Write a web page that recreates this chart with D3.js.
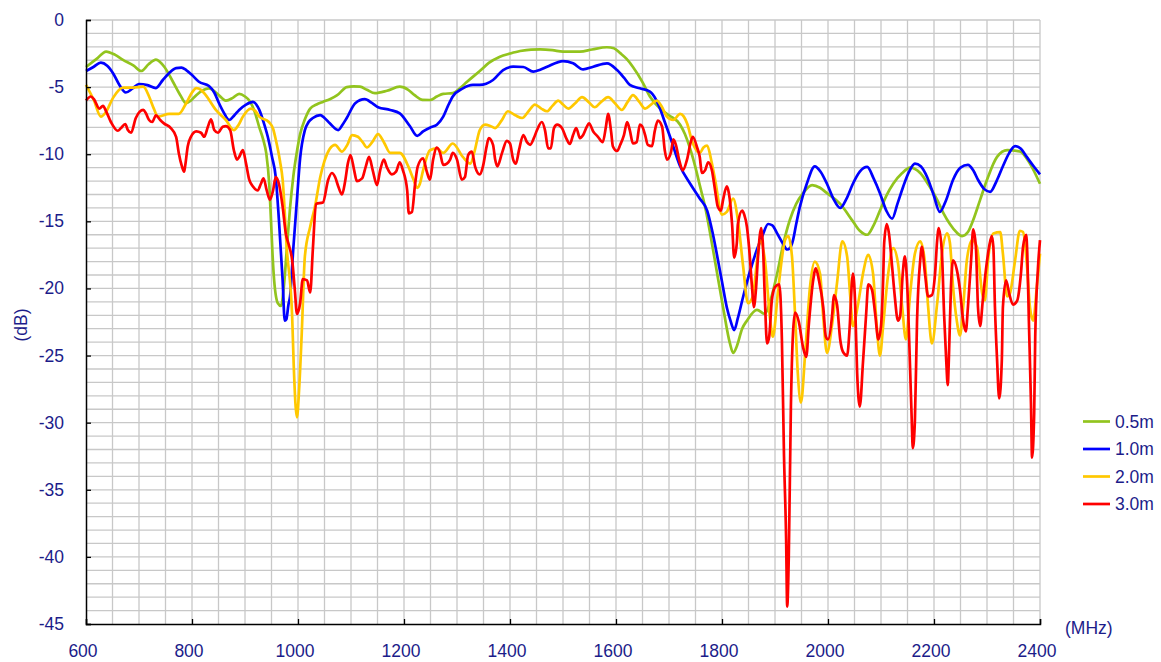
<!DOCTYPE html>
<html>
<head>
<meta charset="utf-8">
<script src="https://cdn.jsdelivr.net/npm/d3@7"></script>
<style>
  body { margin: 0; background: #fff; }
  svg { display: block; font-family: "Liberation Sans", Arial, sans-serif; }
</style>
</head>
<body>
<svg id="chart"></svg>
<script>
var width = 1161, height = 662;

// series labels and colours
var seriesNames = ["0.5m", "1.0m", "2.0m", "3.0m"];
var seriesColors = ["#92c41e", "#0000ff", "#ffc800", "#ff0000"];

// axis ticks
var xTicks = [600, 800, 1000, 1200, 1400, 1600, 1800, 2000, 2200, 2400];
var yTicks = [0, -5, -10, -15, -20, -25, -30, -35, -40, -45];

// [MHz, dB]
var s05 = [[600,-3.5],[620,-2.9],[638,-2.35],[655,-2.6],[669,-2.95],[690,-3.4],[704,-3.8],[718,-3.3],[732,-2.95],[748,-3.5],[764,-4.6],[778,-5.6],[789,-6.2],[798,-6.0],[808,-5.6],[832,-5.1],[848,-5.5],[864,-6.0],[877,-5.8],[889,-5.5],[900,-5.7],[908,-6.0],[918,-6.8],[927,-8.0],[935,-9.0],[940,-9.9],[946,-12.4],[949,-14.9],[952,-17.5],[955,-19.4],[962,-21.1],[968,-21.3],[973,-20.0],[979,-17.0],[985,-14.0],[991,-11.7],[998,-9.8],[1004,-8.5],[1013,-7.4],[1023,-6.6],[1035,-6.3],[1047,-6.1],[1060,-5.9],[1074,-5.6],[1092,-5.0],[1105,-4.95],[1117,-4.97],[1130,-5.2],[1145,-5.45],[1168,-5.27],[1192,-4.97],[1208,-5.2],[1220,-5.6],[1235,-5.95],[1249,-5.96],[1262,-5.7],[1274,-5.5],[1292,-5.45],[1305,-5.1],[1319,-4.6],[1343,-3.8],[1360,-3.2],[1381,-2.73],[1400,-2.5],[1419,-2.31],[1440,-2.2],[1457,-2.19],[1480,-2.25],[1500,-2.36],[1532,-2.36],[1555,-2.2],[1583,-2.03],[1596,-2.1],[1608,-2.47],[1620,-2.9],[1632,-3.5],[1651,-4.7],[1664,-5.7],[1683,-6.6],[1700,-7.1],[1721,-7.8],[1730,-8.5],[1740,-9.6],[1750,-11.0],[1758,-12.3],[1768,-13.9],[1783,-17.1],[1802,-21.4],[1815,-24.1],[1821,-24.8],[1828,-24.3],[1838,-23.0],[1847,-22.4],[1866,-21.6],[1881,-21.9],[1892,-20.8],[1904,-18.9],[1915,-16.8],[1928,-14.9],[1940,-13.7],[1953,-12.9],[1970,-12.3],[1985,-12.5],[1998,-12.9],[2023,-13.7],[2047,-15.0],[2060,-15.7],[2074,-16.0],[2086,-15.3],[2098,-14.2],[2110,-13.1],[2123,-12.2],[2140,-11.4],[2155,-11.0],[2174,-11.4],[2190,-12.3],[2206,-13.4],[2218,-14.4],[2230,-15.2],[2242,-15.8],[2253,-16.1],[2264,-15.8],[2274,-14.9],[2287,-13.4],[2300,-11.9],[2319,-10.2],[2338,-9.7],[2362,-9.8],[2381,-10.7],[2400,-12.2]];

var s10 = [[600,-3.8],[614,-3.5],[628,-3.18],[640,-3.4],[651,-3.96],[663,-4.84],[675,-5.4],[688,-5.1],[700,-4.77],[716,-4.85],[732,-5.07],[745,-4.47],[757,-3.95],[770,-3.58],[780,-3.55],[789,-3.73],[800,-4.1],[813,-4.6],[832,-4.92],[842,-5.4],[851,-6.2],[860,-6.9],[870,-7.45],[880,-7.1],[889,-6.7],[902,-6.3],[915,-6.1],[927,-6.7],[935,-7.6],[943,-8.7],[951,-10.2],[958,-11.7],[964,-14.9],[971,-19.4],[975,-22.4],[978,-22.3],[982,-21.2],[985,-20.6],[991,-17.1],[998,-13.4],[1004,-10.3],[1013,-8.2],[1020,-7.6],[1028,-7.3],[1042,-7.08],[1050,-7.3],[1060,-7.7],[1076,-8.2],[1084,-7.8],[1092,-7.3],[1108,-6.2],[1126,-5.9],[1140,-6.2],[1151,-6.5],[1174,-6.7],[1192,-6.95],[1211,-7.9],[1225,-8.64],[1236,-8.3],[1250,-8.0],[1262,-7.8],[1274,-7.2],[1283,-6.4],[1292,-5.7],[1311,-5.1],[1330,-4.84],[1343,-4.84],[1355,-4.75],[1368,-4.47],[1387,-3.73],[1406,-3.48],[1425,-3.5],[1444,-3.85],[1457,-3.7],[1470,-3.48],[1500,-3.06],[1519,-3.23],[1538,-3.68],[1557,-3.48],[1583,-3.23],[1602,-3.73],[1615,-4.3],[1626,-4.84],[1645,-5.09],[1664,-5.34],[1675,-5.9],[1683,-6.6],[1692,-7.6],[1702,-8.7],[1721,-10.9],[1740,-12.2],[1758,-13.3],[1772,-14.2],[1782,-15.8],[1791,-17.6],[1800,-19.5],[1809,-21.4],[1816,-22.4],[1823,-23.1],[1830,-22.2],[1840,-20.6],[1853,-18.7],[1866,-17.1],[1877,-16.0],[1887,-15.2],[1895,-15.3],[1904,-15.9],[1914,-16.6],[1923,-17.1],[1928,-17.0],[1934,-16.4],[1940,-15.2],[1947,-13.9],[1960,-12.2],[1975,-10.9],[1986,-11.3],[1998,-12.2],[2010,-13.3],[2023,-14.0],[2035,-13.3],[2047,-12.2],[2060,-11.3],[2074,-10.95],[2086,-11.8],[2098,-12.9],[2110,-14.2],[2121,-14.8],[2131,-13.7],[2142,-12.4],[2153,-11.3],[2164,-10.7],[2175,-10.9],[2187,-11.7],[2199,-13.0],[2211,-14.3],[2222,-13.5],[2236,-11.9],[2250,-11.0],[2264,-10.8],[2274,-11.2],[2283,-11.9],[2295,-12.6],[2306,-12.8],[2318,-12.0],[2330,-10.9],[2342,-9.9],[2353,-9.4],[2364,-9.6],[2375,-10.2],[2388,-10.9],[2400,-11.5]];

var s20 = [[600,-4.84],[615,-6.0],[628,-7.2],[638,-6.83],[651,-5.8],[670,-5.04],[689,-5.04],[708,-4.97],[719,-5.7],[728,-6.6],[736,-7.2],[757,-7.0],[775,-7.0],[789,-6.2],[800,-5.4],[808,-5.07],[817,-5.2],[826,-5.6],[845,-6.7],[864,-7.45],[879,-8.2],[888,-7.8],[896,-7.2],[911,-6.6],[920,-6.8],[927,-7.2],[945,-7.6],[953,-8.1],[958,-8.9],[966,-10.5],[971,-11.9],[979,-17.1],[989,-22.1],[992,-25.8],[998,-29.6],[1002,-27.6],[1007,-23.4],[1013,-17.6],[1023,-15.4],[1032,-13.9],[1042,-11.7],[1050,-10.5],[1060,-9.6],[1070,-9.3],[1083,-9.8],[1093,-9.3],[1102,-8.57],[1113,-8.7],[1122,-9.1],[1130,-9.5],[1140,-9.1],[1151,-8.5],[1162,-9.1],[1174,-9.9],[1192,-9.9],[1208,-10.9],[1218,-11.9],[1225,-12.5],[1230,-12.2],[1236,-11.2],[1249,-9.7],[1262,-9.56],[1274,-9.9],[1292,-9.2],[1311,-10.2],[1325,-10.7],[1333,-9.8],[1343,-8.2],[1353,-7.8],[1363,-7.9],[1372,-8.05],[1384,-7.5],[1396,-6.8],[1410,-7.1],[1423,-7.3],[1435,-6.8],[1447,-6.3],[1459,-6.6],[1470,-6.8],[1480,-6.4],[1491,-6.0],[1500,-6.3],[1510,-6.6],[1523,-6.2],[1536,-5.75],[1548,-6.1],[1560,-6.5],[1572,-6.1],[1585,-5.75],[1598,-6.2],[1611,-6.7],[1622,-6.1],[1632,-5.6],[1644,-6.1],[1655,-6.6],[1666,-6.3],[1677,-6.0],[1687,-6.5],[1696,-7.2],[1708,-7.45],[1721,-7.0],[1728,-7.2],[1734,-7.7],[1745,-9.2],[1758,-9.9],[1765,-9.5],[1772,-9.35],[1780,-10.5],[1787,-11.9],[1800,-14.5],[1809,-14.3],[1821,-13.3],[1830,-14.9],[1840,-18.4],[1849,-21.1],[1858,-20.6],[1866,-18.0],[1872,-16.4],[1881,-17.9],[1891,-22.4],[1896,-23.6],[1906,-20.1],[1919,-16.4],[1925,-16.1],[1932,-17.6],[1938,-22.1],[1943,-26.3],[1949,-28.5],[1957,-24.8],[1966,-19.9],[1975,-18.0],[1985,-18.9],[1991,-22.1],[1998,-24.8],[2008,-22.6],[2017,-19.6],[2027,-16.5],[2036,-17.6],[2042,-20.6],[2047,-22.8],[2057,-21.1],[2066,-18.9],[2076,-17.5],[2085,-18.9],[2092,-22.8],[2098,-25.0],[2104,-22.8],[2113,-19.1],[2123,-17.0],[2132,-18.1],[2140,-21.4],[2147,-23.8],[2155,-20.4],[2164,-17.4],[2174,-16.5],[2183,-18.1],[2189,-21.4],[2196,-24.1],[2206,-21.1],[2215,-17.4],[2225,-15.9],[2230,-16.6],[2236,-19.9],[2243,-22.4],[2249,-23.5],[2255,-21.4],[2262,-17.9],[2272,-16.4],[2281,-16.9],[2291,-20.4],[2296,-20.9],[2302,-17.9],[2312,-15.9],[2325,-15.8],[2330,-17.4],[2338,-20.6],[2343,-20.4],[2353,-17.9],[2362,-15.7],[2368,-15.8],[2375,-18.1],[2381,-21.4],[2387,-22.4],[2394,-19.9],[2400,-17.4]];

var s30 = [[600,-6.0],[609,-5.7],[615,-5.9],[625,-6.6],[632,-6.4],[638,-6.8],[647,-7.6],[660,-8.25],[666,-8.05],[674,-7.75],[679,-8.2],[685,-8.4],[694,-7.3],[708,-6.7],[713,-6.95],[719,-7.45],[725,-7.6],[732,-7.1],[740,-7.45],[747,-7.7],[760,-8.05],[770,-8.7],[775,-9.9],[781,-10.9],[785,-11.3],[787,-10.9],[792,-9.4],[798,-8.7],[808,-8.3],[817,-8.4],[823,-8.7],[830,-7.95],[836,-7.4],[842,-8.2],[849,-8.4],[858,-7.95],[864,-7.9],[872,-8.2],[879,-9.7],[885,-10.4],[889,-10.2],[896,-9.7],[902,-10.7],[908,-11.9],[915,-12.4],[924,-12.7],[930,-12.2],[935,-11.8],[941,-12.7],[947,-13.4],[953,-12.7],[958,-11.7],[964,-12.2],[971,-13.9],[977,-15.9],[983,-16.8],[989,-17.9],[994,-20.1],[998,-21.9],[1004,-21.1],[1009,-19.3],[1017,-19.4],[1023,-20.3],[1028,-17.1],[1034,-13.7],[1047,-13.6],[1057,-11.9],[1064,-11.4],[1070,-11.7],[1076,-12.4],[1083,-13.0],[1089,-12.0],[1094,-10.7],[1099,-10.06],[1106,-11.2],[1111,-12.0],[1121,-11.8],[1128,-10.9],[1134,-10.2],[1141,-11.2],[1149,-12.3],[1155,-11.2],[1162,-10.4],[1168,-11.0],[1177,-11.5],[1185,-11.3],[1192,-10.6],[1198,-11.2],[1206,-12.7],[1209,-14.4],[1215,-14.3],[1221,-12.2],[1226,-10.9],[1236,-10.3],[1243,-11.3],[1249,-11.9],[1255,-10.4],[1262,-9.5],[1268,-9.9],[1274,-10.8],[1281,-10.7],[1287,-10.4],[1292,-9.9],[1300,-10.4],[1309,-11.9],[1315,-11.7],[1321,-10.06],[1328,-9.8],[1334,-10.9],[1343,-11.5],[1349,-10.9],[1356,-9.4],[1360,-8.8],[1368,-9.3],[1372,-10.4],[1376,-10.9],[1385,-9.9],[1394,-9.0],[1400,-9.2],[1406,-10.4],[1411,-10.7],[1417,-9.7],[1425,-8.57],[1432,-9.1],[1438,-9.3],[1445,-8.8],[1451,-8.2],[1460,-7.6],[1466,-8.2],[1472,-9.56],[1477,-9.56],[1483,-8.05],[1489,-7.8],[1498,-8.05],[1506,-8.8],[1513,-9.24],[1519,-8.57],[1525,-8.05],[1532,-8.8],[1538,-8.57],[1545,-7.95],[1549,-7.7],[1557,-8.3],[1566,-8.7],[1575,-9.1],[1581,-7.95],[1585,-7.0],[1591,-8.4],[1594,-9.4],[1602,-9.76],[1608,-9.3],[1615,-8.57],[1621,-7.6],[1626,-8.2],[1632,-9.2],[1639,-9.1],[1645,-7.8],[1649,-7.9],[1655,-8.57],[1660,-9.3],[1668,-9.4],[1673,-8.3],[1679,-7.5],[1687,-7.95],[1692,-9.7],[1696,-10.4],[1704,-9.8],[1708,-8.9],[1713,-9.3],[1719,-10.4],[1726,-11.2],[1734,-10.4],[1741,-9.1],[1745,-8.7],[1753,-9.5],[1758,-10.2],[1762,-11.4],[1768,-11.2],[1774,-10.6],[1781,-11.2],[1787,-12.7],[1792,-13.9],[1798,-14.2],[1802,-13.4],[1809,-12.4],[1813,-12.9],[1819,-15.2],[1823,-17.7],[1828,-16.6],[1830,-15.2],[1838,-14.2],[1842,-14.5],[1847,-15.4],[1851,-16.9],[1857,-20.1],[1860,-21.4],[1864,-20.1],[1868,-17.6],[1874,-15.5],[1877,-16.6],[1881,-20.9],[1885,-24.1],[1889,-23.6],[1894,-20.9],[1900,-19.9],[1908,-19.7],[1913,-23.8],[1917,-32.5],[1921,-38.7],[1923,-43.7],[1926,-40.0],[1930,-28.8],[1934,-23.3],[1938,-21.8],[1945,-22.5],[1953,-24.4],[1959,-25.1],[1964,-22.6],[1972,-19.4],[1977,-18.5],[1983,-19.4],[1991,-21.4],[1996,-23.6],[2000,-23.8],[2008,-21.9],[2011,-20.5],[2017,-21.2],[2023,-23.8],[2028,-24.7],[2036,-25.0],[2041,-22.8],[2045,-19.6],[2047,-18.9],[2051,-20.9],[2055,-26.3],[2060,-28.8],[2066,-25.5],[2072,-21.9],[2076,-19.7],[2083,-20.1],[2089,-21.9],[2095,-23.8],[2100,-22.8],[2104,-19.4],[2106,-16.6],[2111,-15.2],[2115,-15.9],[2121,-18.4],[2126,-20.6],[2132,-22.4],[2136,-22.1],[2141,-18.9],[2145,-17.6],[2149,-19.4],[2155,-26.1],[2158,-29.8],[2160,-31.9],[2164,-29.8],[2168,-22.4],[2174,-17.9],[2177,-16.9],[2183,-18.9],[2189,-20.6],[2196,-20.5],[2202,-18.9],[2206,-16.4],[2209,-15.5],[2215,-17.4],[2219,-21.9],[2223,-25.3],[2226,-27.2],[2228,-25.3],[2232,-19.9],[2236,-17.9],[2243,-18.6],[2249,-20.1],[2255,-22.4],[2260,-23.2],[2264,-21.4],[2270,-17.9],[2274,-15.6],[2279,-16.9],[2283,-21.4],[2287,-22.8],[2292,-20.9],[2298,-18.6],[2304,-16.9],[2309,-16.1],[2312,-16.9],[2315,-21.4],[2319,-25.3],[2323,-28.2],[2328,-25.3],[2330,-21.4],[2336,-19.4],[2342,-20.4],[2349,-21.2],[2357,-20.9],[2364,-18.9],[2368,-16.9],[2374,-16.0],[2376,-17.4],[2379,-22.4],[2383,-28.6],[2385,-32.6],[2389,-29.3],[2391,-23.6],[2396,-18.6],[2400,-16.4]];

var allSeries = [s05, s10, s20, s30];

var plotLeft = 86, plotRight = 1040, plotTop = 20, plotBottom = 624;
var textColor = "#1c1c8a";

var svg = d3.select("#chart")
  .attr("width", width)
  .attr("height", height);

svg.append("rect")
  .attr("width", width).attr("height", height)
  .attr("fill", "#fff");

var x = d3.scaleLinear().domain([600, 2400]).range([plotLeft, plotRight]);
var y = d3.scaleLinear().domain([-45, 0]).range([plotBottom, plotTop]);

// grid: every 50 MHz and every 1 dB
var grid = svg.append("g").attr("stroke", "#c8c8c8").attr("stroke-width", 1.3);
grid.selectAll(".gx")
  .data(d3.range(650, 2401, 50))
  .enter().append("line")
  .attr("x1", function(d){ return x(d); }).attr("x2", function(d){ return x(d); })
  .attr("y1", plotTop).attr("y2", plotBottom);
grid.selectAll(".gy")
  .data(d3.range(-44, 1, 1))
  .enter().append("line")
  .attr("x1", plotLeft).attr("x2", plotRight)
  .attr("y1", function(d){ return y(d); }).attr("y2", function(d){ return y(d); });

// data lines
var line = d3.line()
  .x(function(d){ return x(d[0]); })
  .y(function(d){ return y(d[1]); })
  .curve(d3.curveMonotoneX);

svg.append("g").selectAll("path")
  .data(allSeries)
  .enter().append("path")
  .attr("d", line)
  .attr("fill", "none")
  .attr("stroke", function(d, i){ return seriesColors[i]; })
  .attr("stroke-width", 2.7)
  .attr("stroke-linejoin", "round");

// axes (ticks point inward)
var xAxis = svg.append("g")
  .attr("transform", "translate(0," + plotBottom + ")")
  .call(d3.axisTop(x).tickValues(xTicks).tickSize(5).tickFormat(""));
var yAxis = svg.append("g")
  .attr("transform", "translate(" + plotLeft + ",0)")
  .call(d3.axisRight(y).tickValues(yTicks).tickSize(5).tickFormat(""));
[xAxis, yAxis].forEach(function(a){
  a.select(".domain").attr("stroke", "#000").attr("stroke-width", 1.5);
  a.selectAll(".tick line").attr("stroke", "#000").attr("stroke-width", 1.3);
});

// tick labels
svg.append("g").selectAll("text")
  .data(xTicks)
  .enter().append("text")
  .attr("x", function(d){ return x(d) - 3; })
  .attr("y", 657)
  .attr("text-anchor", "middle")
  .attr("font-size", 17.5)
  .attr("fill", textColor)
  .text(function(d){ return d; });

svg.append("g").selectAll("text")
  .data(yTicks)
  .enter().append("text")
  .attr("x", 64)
  .attr("y", function(d){ return y(d) + 6; })
  .attr("text-anchor", "end")
  .attr("font-size", 17.5)
  .attr("fill", textColor)
  .text(function(d){ return d; });

// axis titles
svg.append("text")
  .attr("x", 1065).attr("y", 634)
  .attr("font-size", 17.5)
  .attr("fill", textColor)
  .text("(MHz)");

svg.append("text")
  .attr("transform", "translate(27,325) rotate(-90)")
  .attr("text-anchor", "middle")
  .attr("font-size", 17.5)
  .attr("fill", textColor)
  .text("(dB)");

// legend
var legend = svg.append("g").selectAll("g")
  .data(seriesNames)
  .enter().append("g")
  .attr("transform", function(d, i){ return "translate(1083," + (421.5 + i * 27.5) + ")"; });
legend.append("line")
  .attr("x1", 0).attr("x2", 27)
  .attr("stroke", function(d, i){ return seriesColors[i]; })
  .attr("stroke-width", 2.7);
legend.append("text")
  .attr("x", 32).attr("y", 6)
  .attr("font-size", 17.5)
  .attr("fill", textColor)
  .text(function(d){ return d; });
</script>
</body>
</html>
